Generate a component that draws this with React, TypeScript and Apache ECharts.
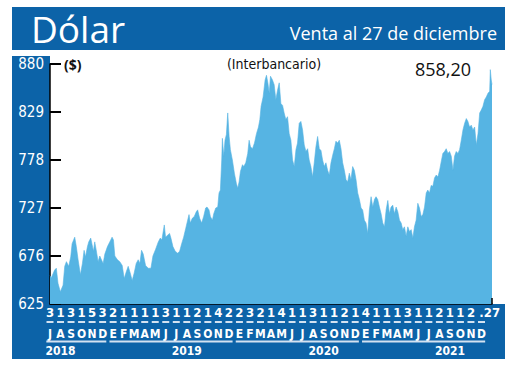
import React, { useEffect, useRef } from "react";
import * as echarts from "echarts";

// ---- data (x = months since 1 Jul 2018, y = CLP per USD) ----
const dolar2018: [number, number][] = [
  [0, 655], [0.13, 653], [0.44, 661], [0.6, 663], [0.76, 647], [0.98, 638], [1.24, 645], [1.4, 665],
  [1.56, 670], [1.78, 665], [1.97, 675], [2.1, 689], [2.35, 696], [2.5, 686], [2.67, 672], [2.89, 656],
  [3.08, 668], [3.24, 682], [3.37, 675], [3.56, 686], [3.68, 691], [3.87, 695], [4.0, 688], [4.13, 681],
  [4.25, 691], [4.38, 683], [4.57, 670], [4.73, 676], [4.89, 672], [5.05, 668], [5.21, 678], [5.46, 686],
  [5.68, 691], [5.9, 696],
];
const dolar2019: [number, number][] = [
  [6.03, 693], [6.16, 676], [6.41, 672], [6.63, 670], [6.86, 666], [7.05, 652], [7.24, 659], [7.43, 665],
  [7.62, 658], [7.81, 650], [8.0, 658], [8.19, 668], [8.38, 672], [8.54, 668], [8.7, 682], [8.86, 678],
  [9.08, 666], [9.33, 663], [9.59, 663], [9.78, 676], [10.03, 683], [10.29, 691], [10.48, 695], [10.63, 693],
  [10.86, 709], [10.98, 696], [11.17, 698], [11.36, 700], [11.49, 695], [11.68, 686], [11.9, 681], [12.13, 679],
  [12.32, 681], [12.51, 689], [12.7, 696], [12.89, 705], [13.08, 714], [13.21, 720], [13.33, 711], [13.52, 716],
  [13.71, 718], [13.9, 723], [14.03, 725], [14.22, 716], [14.41, 711], [14.6, 718], [14.79, 727], [14.92, 728],
  [15.11, 725], [15.24, 718], [15.43, 714], [15.56, 721], [15.75, 727], [15.94, 728], [16.06, 743], [16.19, 746],
  [16.32, 778], [16.38, 801], [16.51, 782], [16.63, 799], [16.76, 805], [16.89, 828], [17.02, 803], [17.14, 789],
  [17.33, 778], [17.52, 764], [17.71, 753], [17.84, 748], [17.97, 755],
];
const dolar2020: [number, number][] = [
  [18.1, 766], [18.29, 773], [18.41, 771], [18.6, 775], [18.79, 785], [18.92, 799], [19.05, 792], [19.24, 790],
  [19.43, 796], [19.62, 806], [19.81, 813], [19.94, 821], [20.06, 835], [20.25, 845], [20.44, 863], [20.57, 868],
  [20.7, 860], [20.83, 849], [20.95, 867], [21.14, 863], [21.3, 858], [21.46, 842], [21.62, 852], [21.78, 860],
  [21.94, 838], [22.1, 836], [22.25, 828], [22.41, 821], [22.57, 824], [22.73, 806], [22.89, 799], [23.05, 778],
  [23.21, 771], [23.37, 789], [23.52, 796], [23.68, 817], [23.84, 819], [24.0, 810], [24.16, 794], [24.32, 787],
  [24.48, 790], [24.63, 778], [24.79, 771], [24.95, 760], [25.11, 775], [25.27, 792], [25.43, 803], [25.59, 790],
  [25.75, 788], [25.9, 778], [26.06, 771], [26.22, 775], [26.38, 767], [26.54, 762], [26.7, 775], [26.86, 783],
  [27.02, 790], [27.17, 798], [27.33, 796], [27.49, 799], [27.65, 790], [27.81, 775], [27.97, 767], [28.13, 757],
  [28.29, 755], [28.44, 764], [28.6, 757], [28.76, 771], [28.92, 767], [29.08, 757], [29.24, 743], [29.4, 736],
  [29.56, 727], [29.71, 725], [29.87, 714],
];
const dolar2021: [number, number][] = [
  [30.03, 711], [30.19, 700], [30.35, 725], [30.51, 739], [30.67, 728], [30.83, 736], [30.98, 739], [31.14, 736],
  [31.3, 728], [31.46, 721], [31.62, 711], [31.78, 707], [31.94, 725], [32.1, 735], [32.25, 721], [32.41, 728],
  [32.57, 730], [32.73, 721], [32.89, 728], [33.05, 723], [33.21, 714], [33.37, 711], [33.52, 704], [33.68, 707],
  [33.84, 697], [34.0, 707], [34.16, 702], [34.32, 704], [34.48, 695], [34.63, 707], [34.79, 714], [34.95, 732],
  [35.11, 727], [35.27, 718], [35.43, 720], [35.59, 728], [35.75, 743], [35.9, 746], [36.06, 743], [36.22, 751],
  [36.38, 750], [36.54, 759], [36.7, 762], [36.86, 760], [37.02, 767], [37.17, 776], [37.33, 785], [37.49, 787],
  [37.65, 790], [37.81, 785], [37.97, 787], [38.13, 782], [38.29, 767], [38.44, 782], [38.6, 787], [38.76, 785],
  [38.92, 789], [39.08, 799], [39.24, 810], [39.4, 817], [39.56, 822], [39.71, 819], [39.87, 813], [40.03, 815],
  [40.19, 810], [40.35, 813], [40.51, 794], [40.67, 806], [40.83, 828], [40.98, 831], [41.14, 835], [41.3, 842],
  [41.46, 845], [41.62, 849], [41.78, 851], [41.84, 874], [41.93, 863], [42.0, 858.2],
];

const yMin = 625;
const yMax = 880;
const yStep = 51;

const dayLabels = [
  "3", "1", "3", "1", "5", "3",
  "2", "1", "1", "1", "1", "3", "1", "1", "2", "1", "4", "2",
  "2", "3", "2", "1", "4", "1", "1", "3", "1", "1", "2", "1",
  "4", "1", "1", "1", "3", "1", "1", "2", "1", "1", "2", ".", "27",
];
const months2018 = ["J", "A", "S", "O", "N", "D"];
const monthsFull = ["E", "F", "M", "A", "M", "J", "J", "A", "S", "O", "N", "D"];
const years = ["2018", "2019", "2020", "2021"];
const monthsPerYear = [6, 12, 12, 12];

const title = "Dólar";
const subtitle = "Venta al 27 de diciembre";
const unitLabel = "($)";
const seriesLabel = "(Interbancario)";

// ---- layout / style ----
const BLUE = "#0c63a8";
const AREA = "#56b4e3";
const RULE = "#d3e2f1";
const NARROW = '"Liberation Sans Narrow", "DejaVu Sans Condensed", "Open Sans", sans-serif';
const SANS = '"Open Sans", "Noto Sans", sans-serif';
const YEAR_LABEL_SLOTS = [1, 13, 26, 38];
const DASH_DY = 18;
const UNDERLINE_DY = 37.5;

export default function App() {
  const ref = useRef<HTMLDivElement>(null);

  useEffect(() => {
    const el = ref.current;
    if (!el) return;
    const chart = echarts.init(el, null, { renderer: "svg" });

    const data = [...dolar2018, ...dolar2019, ...dolar2020, ...dolar2021];
    const lastValue = data[data.length - 1][1];
    const xMax = dayLabels.length - 1;

    const monthLabels = [...months2018, ...monthsFull, ...monthsFull, ...monthsFull, ""];
    const yearLabels = dayLabels.map(() => "");
    YEAR_LABEL_SLOTS.forEach((s, k) => (yearLabels[s] = years[k]));

    const dashData: number[][] = [];
    monthLabels.forEach((m, i) => {
      if (m) dashData.push([i, yMin]);
    });
    const underlineData: number[][] = [];
    let start = 0;
    monthsPerYear.forEach((n) => {
      underlineData.push([start - 0.35, yMin, start + n - 1 + 0.35]);
      start += n;
    });

    const catAxis = (labels: string[], offset: number, label: any) => ({
      type: "category",
      data: labels,
      boundaryGap: false,
      position: "bottom",
      offset,
      axisLine: { show: false },
      axisTick: { show: false },
      splitLine: { show: false },
      axisLabel: { interval: 0, color: "#fff", fontFamily: NARROW, ...label },
    });

    chart.setOption({
      animation: false,
      backgroundColor: "transparent",
      grid: { left: 50, top: 64, width: 442, height: 240, containLabel: false },
      xAxis: [
        {
          type: "value", min: 0, max: xMax, position: "bottom",
          axisLine: { show: true, onZero: false, lineStyle: { color: "#000", width: 1.5 } },
          axisTick: { show: false }, axisLabel: { show: false }, splitLine: { show: false },
        },
        catAxis(dayLabels, 0, { fontSize: 13, fontWeight: "bold", margin: 2 }),
        catAxis(monthLabels, 30, { fontSize: 12, fontWeight: "bold", margin: 0, verticalAlign: "middle" }),
        catAxis(yearLabels, 47, { fontSize: 12, fontWeight: "bold", margin: 0, verticalAlign: "middle" }),
      ],
      yAxis: {
        type: "value", min: yMin, max: yMax, interval: yStep,
        axisLine: { show: true, lineStyle: { color: "#000", width: 1.5 } },
        axisTick: { show: true, inside: true, length: 11, lineStyle: { color: "#000", width: 2 } },
        axisLabel: { color: "#fff", fontSize: 15, fontFamily: NARROW, margin: 6 },
        splitLine: { show: false },
      },
      series: [
        {
          type: "line", xAxisIndex: 0, yAxisIndex: 0, data,
          showSymbol: false, symbol: "none",
          lineStyle: { width: 0.6, color: AREA },
          areaStyle: { color: AREA, opacity: 1 },
        },
        {
          type: "custom", xAxisIndex: 0, yAxisIndex: 0, clip: false, silent: true, z: 5,
          data: dashData,
          renderItem: (_p: any, api: any) => {
            const p = api.coord([api.value(0), api.value(1)]);
            return {
              type: "rect",
              shape: { x: p[0] - 3.5, y: p[1] + DASH_DY - 1, width: 7, height: 2 },
              style: { fill: RULE },
            };
          },
        },
        {
          type: "custom", xAxisIndex: 0, yAxisIndex: 0, clip: false, silent: true, z: 5,
          data: underlineData,
          renderItem: (_p: any, api: any) => {
            const a = api.coord([api.value(0), api.value(1)]);
            const b = api.coord([api.value(2), api.value(1)]);
            return {
              type: "rect",
              shape: { x: a[0], y: a[1] + UNDERLINE_DY - 1, width: b[0] - a[0], height: 2 },
              style: { fill: RULE },
            };
          },
        },
        {
          type: "custom", xAxisIndex: 0, yAxisIndex: 0, clip: false, silent: true, z: 5,
          data: [[xMax, yMin]],
          renderItem: (_p: any, api: any) => {
            const p = api.coord([api.value(0), api.value(1)]);
            return {
              type: "line",
              shape: { x1: p[0], y1: p[1], x2: p[0], y2: p[1] - 6 },
              style: { stroke: "#000", lineWidth: 1.5 },
            };
          },
        },
      ],
      graphic: [
        {
          type: "text", x: 31, y: 28,
          style: { text: title, fill: "#fff", fontSize: 37, fontFamily: SANS, align: "left", verticalAlign: "middle" },
        },
        {
          type: "text", x: 497, y: 33,
          style: { text: subtitle, fill: "#fff", fontSize: 18, fontFamily: SANS, align: "right", verticalAlign: "middle" },
        },
        {
          type: "text", x: 64, y: 64,
          style: { text: unitLabel, fill: "#111", fontSize: 14, fontWeight: "bold", fontFamily: SANS, align: "left", verticalAlign: "middle" },
        },
        {
          type: "text", x: 274, y: 64,
          style: { text: seriesLabel, fill: "#111", fontSize: 14, fontFamily: NARROW, align: "center", verticalAlign: "middle" },
        },
        {
          type: "text", x: 443, y: 69,
          style: {
            text: lastValue.toFixed(2).replace(".", ","),
            fill: "#111", fontSize: 18, fontFamily: SANS, align: "center", verticalAlign: "middle",
          },
        },
      ],
    });

    return () => chart.dispose();
  }, []);

  const box = (left: number, top: number, width: number, height: number) => ({
    position: "absolute" as const, left, top, width, height, background: BLUE,
  });

  return (
    <div style={{ position: "fixed", left: 0, top: 0, width: 520, height: 386, background: "#fff", overflow: "hidden" }}>
      <div style={box(12, 7, 493, 43)} />
      <div style={box(12, 56, 38, 249)} />
      <div style={box(12, 304, 493, 55)} />
      <div ref={ref} style={{ position: "absolute", left: 0, top: 0, width: 520, height: 386 }} />
    </div>
  );
}
